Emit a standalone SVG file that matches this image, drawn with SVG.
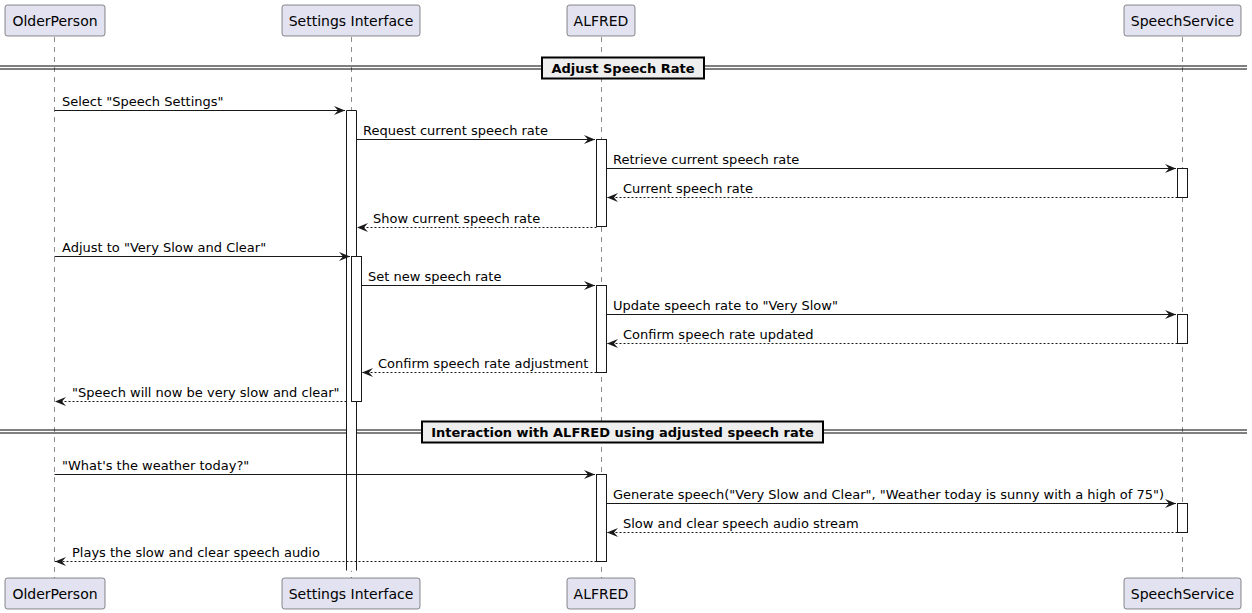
<svg xmlns="http://www.w3.org/2000/svg" width="1252" height="613" viewBox="0 0 1252 613">
<style>
.p rect{fill:#E2E2F0;stroke:#181818;stroke-width:0.5}
.p text{font-family:"DejaVu Sans",sans-serif;font-size:14px;fill:#000;text-anchor:middle}
.life{stroke:#181818;stroke-width:0.5;stroke-dasharray:5,5}
.act{fill:#FFFFFF;stroke:#181818;stroke-width:1}
.m{stroke:#181818;stroke-width:1;fill:none}
.d{stroke-dasharray:2,2}
.t{font-family:"DejaVu Sans",sans-serif;font-size:13px;fill:#000}
.sep line{stroke:#000;stroke-width:1}
.sep rect{fill:#EEEEEE;stroke:#000;stroke-width:2}
.sep text{font-family:"DejaVu Sans",sans-serif;font-size:13px;font-weight:bold;fill:#000;text-anchor:middle}
</style>
<defs>
<marker id="ah" markerWidth="12" markerHeight="10" refX="11" refY="4.5" orient="auto" markerUnits="userSpaceOnUse">
<polygon points="0,0 11,4.5 0,9 4,4.5" fill="#181818"/>
</marker>
</defs>
<rect width="1252" height="613" fill="#FFFFFF"/>
<g id="lifelines">
<line class="life" x1="54.5" y1="37" x2="54.5" y2="578"/>
<line class="life" x1="351.5" y1="37" x2="351.5" y2="578"/>
<line class="life" x1="601.5" y1="37" x2="601.5" y2="578"/>
<line class="life" x1="1182.5" y1="37" x2="1182.5" y2="578"/>
</g>
<g id="separators">
<g class="sep">
<line x1="0" y1="66" x2="1247" y2="66"/><line x1="0" y1="69" x2="1247" y2="69"/>
<rect x="542" y="57.5" width="162" height="21"/>
<text x="623" y="72.5">Adjust Speech Rate</text>
</g>
<g class="sep">
<line x1="0" y1="430" x2="1247" y2="430"/><line x1="0" y1="433" x2="1247" y2="433"/>
<rect x="422" y="421.5" width="401" height="21"/>
<text x="622.5" y="436.5">Interaction with ALFRED using adjusted speech rate</text>
</g>
</g>
<g id="activations">
<rect x="346.5" y="110.5" width="10" height="460" fill="#FFFFFF" stroke="none"/>
<path class="act" d="M346.5,570.5 V110.5 H356.5 V570.5" fill="none"/>
<rect class="act" x="596.5" y="139.5" width="10" height="87"/>
<rect class="act" x="1177.5" y="168.5" width="10" height="29"/>
<rect class="act" x="351.5" y="256.5" width="10" height="145"/>
<rect class="act" x="596.5" y="285.5" width="10" height="87"/>
<rect class="act" x="1177.5" y="314.5" width="10" height="29"/>
<rect class="act" x="596.5" y="474.5" width="10" height="87"/>
<rect class="act" x="1177.5" y="503.5" width="10" height="29"/>
</g>
<g id="connectors">
<line class="m" x1="54.5" y1="110.5" x2="345" y2="110.5" marker-end="url(#ah)"/>
<text class="t" x="62" y="106">Select "Speech Settings"</text>
<line class="m" x1="356.5" y1="139.5" x2="595" y2="139.5" marker-end="url(#ah)"/>
<text class="t" x="363" y="135">Request current speech rate</text>
<line class="m" x1="606.5" y1="168.5" x2="1176" y2="168.5" marker-end="url(#ah)"/>
<text class="t" x="613" y="164">Retrieve current speech rate</text>
<line class="m d" x1="1177.5" y1="197.5" x2="607" y2="197.5" marker-end="url(#ah)"/>
<text class="t" x="623" y="193">Current speech rate</text>
<line class="m d" x1="596.5" y1="227.5" x2="357" y2="227.5" marker-end="url(#ah)"/>
<text class="t" x="373" y="223">Show current speech rate</text>
<line class="m" x1="54.5" y1="256.5" x2="350" y2="256.5" marker-end="url(#ah)"/>
<text class="t" x="62" y="252">Adjust to "Very Slow and Clear"</text>
<line class="m" x1="361.5" y1="285.5" x2="595" y2="285.5" marker-end="url(#ah)"/>
<text class="t" x="368" y="281">Set new speech rate</text>
<line class="m" x1="606.5" y1="314.5" x2="1176" y2="314.5" marker-end="url(#ah)"/>
<text class="t" x="613" y="310">Update speech rate to "Very Slow"</text>
<line class="m d" x1="1177.5" y1="343.5" x2="607" y2="343.5" marker-end="url(#ah)"/>
<text class="t" x="623" y="339">Confirm speech rate updated</text>
<line class="m d" x1="596.5" y1="372.5" x2="362" y2="372.5" marker-end="url(#ah)"/>
<text class="t" x="378" y="368">Confirm speech rate adjustment</text>
<line class="m d" x1="346.5" y1="401.5" x2="55" y2="401.5" marker-end="url(#ah)"/>
<text class="t" x="72" y="397">"Speech will now be very slow and clear"</text>
<line class="m" x1="54.5" y1="474.5" x2="595" y2="474.5" marker-end="url(#ah)"/>
<text class="t" x="62" y="470">"What's the weather today?"</text>
<line class="m" x1="606.5" y1="503.5" x2="1176" y2="503.5" marker-end="url(#ah)"/>
<text class="t" x="613" y="499">Generate speech("Very Slow and Clear", "Weather today is sunny with a high of 75")</text>
<line class="m d" x1="1177.5" y1="532.5" x2="607" y2="532.5" marker-end="url(#ah)"/>
<text class="t" x="623" y="528">Slow and clear speech audio stream</text>
<line class="m d" x1="596.5" y1="561.5" x2="55" y2="561.5" marker-end="url(#ah)"/>
<text class="t" x="72" y="557">Plays the slow and clear speech audio</text>
</g>
<g id="OlderPerson" class="p">
<rect x="5" y="5" width="100" height="31" rx="2.5"/><text x="55" y="25.5">OlderPerson</text>
<rect x="5" y="578" width="100" height="31" rx="2.5"/><text x="55" y="598.5">OlderPerson</text>
</g>
<g id="SettingsInterface" class="p">
<rect x="282" y="5" width="138" height="31" rx="2.5"/><text x="351" y="25.5">Settings Interface</text>
<rect x="282" y="578" width="138" height="31" rx="2.5"/><text x="351" y="598.5">Settings Interface</text>
</g>
<g id="ALFRED" class="p">
<rect x="567" y="5" width="68" height="31" rx="2.5"/><text x="601" y="25.5">ALFRED</text>
<rect x="567" y="578" width="68" height="31" rx="2.5"/><text x="601" y="598.5">ALFRED</text>
</g>
<g id="SpeechService" class="p">
<rect x="1124" y="5" width="117" height="31" rx="2.5"/><text x="1182.5" y="25.5">SpeechService</text>
<rect x="1124" y="578" width="117" height="31" rx="2.5"/><text x="1182.5" y="598.5">SpeechService</text>
</g>
</svg>
